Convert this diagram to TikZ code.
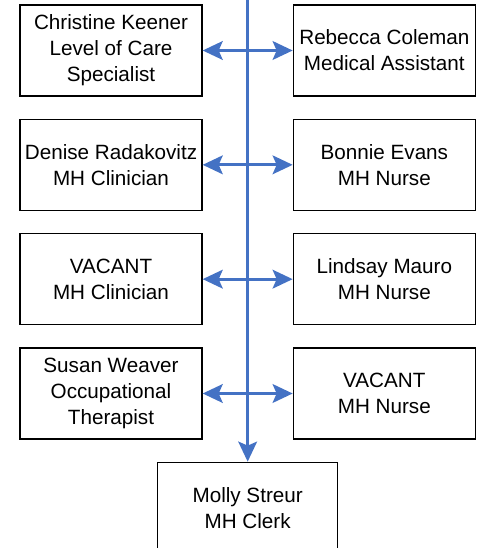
\documentclass[tikz,border=0pt]{standalone}
\usepackage{fontspec}
\setmainfont{Liberation Sans}
\usepackage{tikz}
\usetikzlibrary{positioning,calc,arrows.meta}
\definecolor{linkblue}{HTML}{4472C4}

\begin{document}
\begin{tikzpicture}[x=0.75pt, y=0.75pt, node distance=16.5pt and 67.5pt,
  staff/.style={rectangle, draw=black, line width=1pt, minimum width=136.5pt, minimum height=68.25pt, align=center, inner sep=1pt, font=\fontsize{15.5}{19.5}\selectfont},
  link/.style={draw=linkblue, line width=2.25pt, {Stealth[length=15pt,width=14pt,inset=3pt]}-{Stealth[length=15pt,width=14pt,inset=3pt]}},
  spine/.style={draw=linkblue, line width=2.25pt, -{Stealth[length=15pt,width=14pt,inset=3pt]}}]
\path[use as bounding box, clip] (0,0) rectangle (479,-548);

\node (ck) [staff] at (111,-50.5) {Christine Keener\\Level of Care\\Specialist};
\node (rc) [staff, right=of ck] {Rebecca Coleman\\Medical Assistant};
\node (dr) [staff, below=of ck] {Denise Radakovitz\\MH Clinician};
\node (be) [staff, right=of dr] {Bonnie Evans\\MH Nurse};
\node (vc) [staff, below=of dr] {VACANT\\MH Clinician};
\node (lm) [staff, right=of vc] {Lindsay Mauro\\MH Nurse};
\node (sw) [staff, below=of vc] {Susan Weaver\\Occupational\\Therapist};
\node (vn) [staff, right=of sw] {VACANT\\MH Nurse};

% clerk sits under the gap between the columns
\coordinate (mid) at ($(sw.south east)!0.5!(vn.south west)$);
\node (ms) [staff, below=16.5pt of mid, minimum width=135pt] {Molly Streur\\MH Clerk};

\coordinate (top) at (mid |- 0,5);
\draw[spine] (top) -- (ms.north);

\draw[link] (ck.east) -- (rc.west);
\draw[link] (dr.east) -- (be.west);
\draw[link] (vc.east) -- (lm.west);
\draw[link] (sw.east) -- (vn.west);
\end{tikzpicture}
\end{document}
